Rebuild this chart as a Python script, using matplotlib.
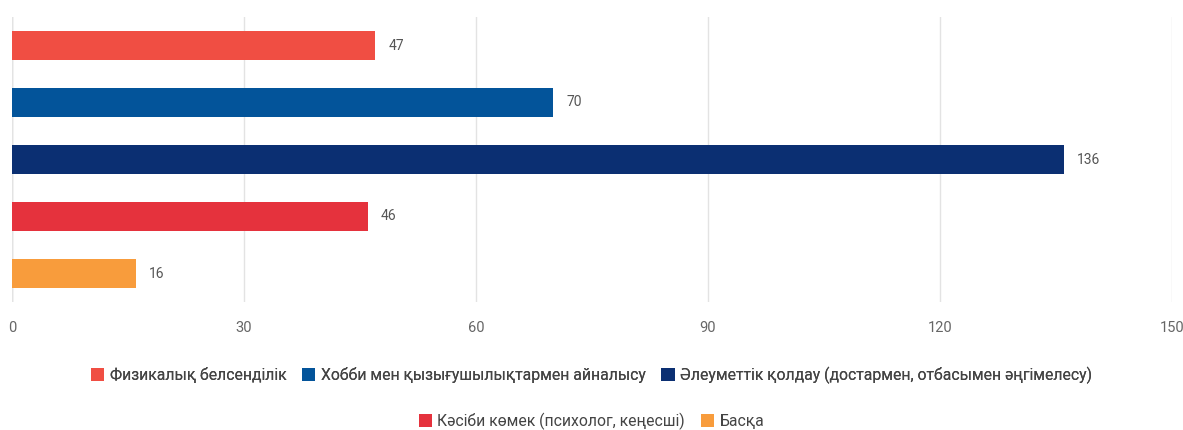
import matplotlib.pyplot as plt
from matplotlib.patches import Patch

categories = [
    "Физикалық белсенділік",
    "Хобби мен қызығушылықтармен айналысу",
    "Әлеуметтік қолдау (достармен, отбасымен әңгімелесу)",
    "Кәсіби көмек (психолог, кеңесші)",
    "Басқа",
]
values = [47, 70, 136, 46, 16]
colors = ["#F04E43", "#03549A", "#0B2F72", "#E5323D", "#F89C3C"]
x_ticks = [0, 30, 60, 90, 120, 150]

plt.rcParams['font.family'] = ['Roboto', 'DejaVu Sans']

fig = plt.figure(figsize=(11.83, 4.30), dpi=100)
ax = fig.add_axes([12 / 1183, 1 - 302 / 430, 1160 / 1183, 285 / 430])

ypos = list(range(len(values)))
ax.barh(ypos, values, height=0.5, color=colors, zorder=3)
for y, v in zip(ypos, values):
    ax.text(v + 1.7, y, str(v), va='center', ha='left', fontsize=10, color='#555555')

ax.set_xlim(0, 150)
ax.set_ylim(4.5, -0.5)
ax.set_xticks(x_ticks)
ax.set_xticklabels([str(t) for t in x_ticks])
ax.set_yticks([])
ax.tick_params(axis='x', length=0, pad=14, labelsize=10.5, labelcolor='#666666')
ax.grid(axis='x', color='#E3E3E3', linewidth=1, zorder=0)
for s in ax.spines.values():
    s.set_visible(False)
ax.axvline(0, color='#CCCCCC', linewidth=1, zorder=1)

handles = [Patch(facecolor=c, edgecolor='none') for c in colors]
leg_kw = dict(loc='center', frameon=False, fontsize=11.3, handlelength=0.85, handleheight=0.85,
              handletextpad=0.35, columnspacing=1.0, labelcolor='#444444')
leg1 = fig.legend(handles[:3], categories[:3], bbox_to_anchor=(0.5, 1 - 375 / 430), ncol=3, **leg_kw)
leg2 = fig.legend(handles[3:], categories[3:], bbox_to_anchor=(0.5, 1 - 421 / 430), ncol=2, **leg_kw)
fig.add_artist(leg1)

fig.savefig("out.png", dpi=100)
